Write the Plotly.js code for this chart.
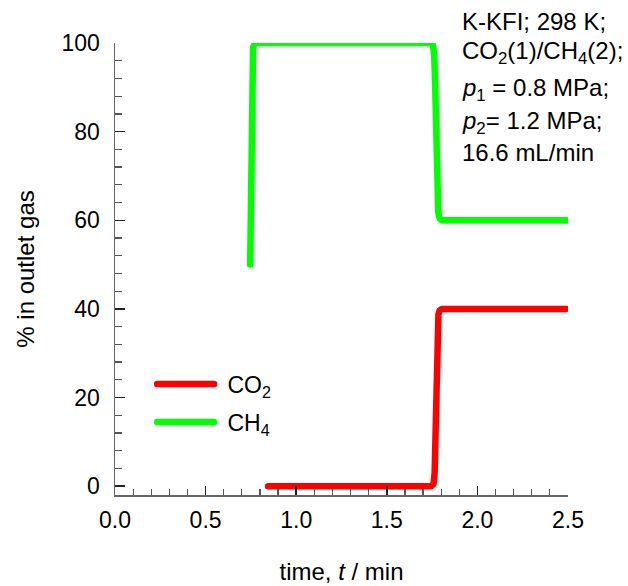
<!DOCTYPE html>
<html>
<head>
<meta charset="utf-8">
<script src="https://cdn.plot.ly/plotly-3.0.1.min.js"></script>
<style>
  html, body { margin: 0; padding: 0; background: #fff; }
  #chart { width: 628px; height: 586px; }
  .js-line { stroke-linecap: round; stroke-linejoin: round; }
</style>
</head>
<body>
<div id="chart"></div>
<script>
// CH4 outlet composition (%) vs time (min)
const ch4Time = [0.746, 0.748, 0.750, 0.752, 0.754, 0.756, 0.758, 0.762, 0.770, 0.780, 1.000, 1.500, 1.740, 1.755, 1.762, 1.766, 1.770, 1.775, 1.780, 1.784, 1.788, 1.795, 1.810, 2.000, 2.490];
const ch4Pct  = [50, 58, 66, 74, 82, 90, 96, 99, 99.8, 100, 100, 100, 100, 99.5, 97, 92, 82, 72, 65, 62, 60.8, 60.2, 60, 60, 60];
// CO2 outlet composition (%) vs time (min)
const co2Time = [0.845, 1.000, 1.500, 1.745, 1.758, 1.764, 1.768, 1.772, 1.776, 1.780, 1.785, 1.792, 1.805, 2.000, 2.490];
const co2Pct  = [0, 0, 0, 0, 0.5, 3, 10, 20, 30, 36, 38.8, 39.7, 40, 40, 40];

const xTicks = [0, 0.5, 1.0, 1.5, 2.0, 2.5];
const xTickText = ["0.0", "0.5", "1.0", "1.5", "2.0", "2.5"];
const yTicks = [0, 20, 40, 60, 80, 100];

const infoLines = [
  "K-KFI; 298 K;",
  "CO<sub>2</sub>(1)/CH<sub>4</sub>(2);",
  "<i>p</i><sub>1</sub> = 0.8 MPa;",
  "<i>p</i><sub>2</sub>= 1.2 MPa;",
  "16.6 mL/min"
];
const infoY = [1.0465, 0.980, 0.898, 0.825, 0.757];

const font = "Arial, Liberation Sans, Helvetica, sans-serif";

const traces = [
  {
    x: co2Time, y: co2Pct, type: "scatter", mode: "lines",
    name: "\u00a0\u200aCO<sub>2</sub>", legendgroup: "a",
    line: { color: "#ff0000", width: 6.5 }, cliponaxis: false
  },
  {
    x: ch4Time, y: ch4Pct, type: "scatter", mode: "lines",
    name: "\u00a0\u200aCH<sub>4</sub>", legendgroup: "b",
    line: { color: "#00ff00", width: 6.5 }, cliponaxis: false
  }
];

const layout = {
  width: 628, height: 586,
  margin: { l: 115, r: 60, t: 43, b: 91 },
  paper_bgcolor: "#fff", plot_bgcolor: "#fff",
  font: { family: font, size: 23, color: "#000" },
  showlegend: true,
  legend: {
    x: 0.082, y: 0.293, xanchor: "left", yanchor: "top",
    bgcolor: "rgba(0,0,0,0)", borderwidth: 0,
    font: { family: font, size: 23, color: "#000" },
    tracegroupgap: 5, itemwidth: 57
  },
  xaxis: {
    range: [0, 2.5], autorange: false,
    showgrid: false, zeroline: false,
    showline: true, linecolor: "#666", linewidth: 1.5,
    ticks: "inside", ticklen: 9, tickwidth: 1.5, tickcolor: "#222",
    tickvals: xTicks, ticktext: xTickText, ticklabelstandoff: 4,
    minor: { dtick: 0.1, tick0: 0, ticks: "inside", ticklen: 6, tickwidth: 1.2, tickcolor: "#555", showgrid: false },
    tickfont: { family: font, size: 23, color: "#000" },
    title: { text: "time, <i>t</i> / min", font: { family: font, size: 24, color: "#000" }, standoff: 31 },
    automargin: false
  },
  yaxis: {
    range: [-2, 100], autorange: false,
    showgrid: false, zeroline: false,
    showline: true, linecolor: "#666", linewidth: 1.5,
    ticks: "inside", ticklen: 10, tickwidth: 1.5, tickcolor: "#222",
    tickvals: yTicks, ticklabelstandoff: 9,
    minor: { dtick: 4, tick0: 0, ticks: "inside", ticklen: 7, tickwidth: 1.2, tickcolor: "#555", showgrid: false },
    tickfont: { family: font, size: 23, color: "#000" },
    title: { text: "% in outlet gas", font: { family: font, size: 24, color: "#000" }, standoff: 20 },
    automargin: false
  },
  annotations: infoLines.map((t, i) => ({
    text: t, xref: "paper", yref: "paper",
    x: (460 - 115) / 453, y: infoY[i], xanchor: "left", yanchor: "middle",
    showarrow: false, align: "left",
    font: { family: font, size: 24, color: "#000" }
  }))
};

Plotly.newPlot("chart", traces, layout, { displayModeBar: false, staticPlot: true });
</script>
</body>
</html>
